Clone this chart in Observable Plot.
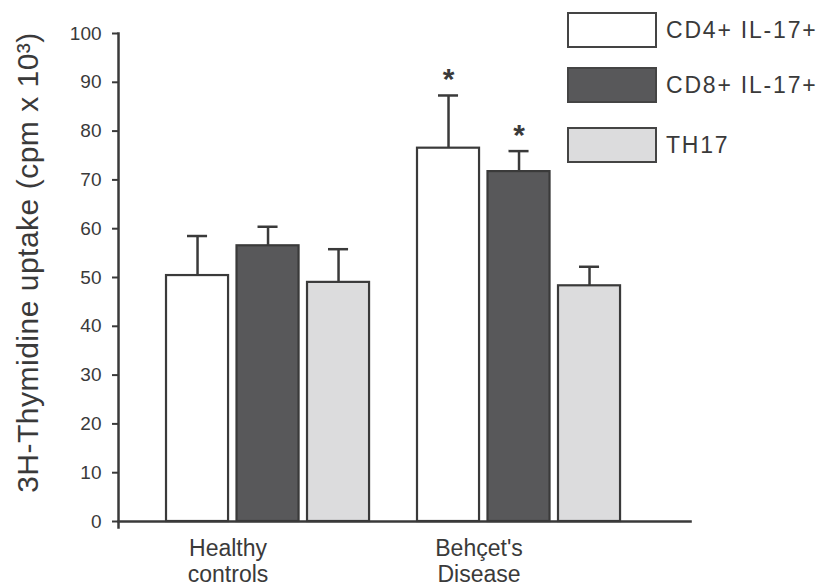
<!DOCTYPE html>
<html>
<head>
<meta charset="utf-8">
<script src="https://cdn.jsdelivr.net/npm/d3@7"></script>
<script src="https://cdn.jsdelivr.net/npm/@observablehq/plot@0.6"></script>
<style>
  html, body { margin: 0; padding: 0; background: #fff; }
  #chart { position: relative; width: 830px; height: 586px; font-family: "Liberation Sans", Arial, sans-serif; color: #3a3a3a; }
  #legend { position: absolute; left: 567px; top: 12px; }
  .item { position: absolute; left: 0; display: flex; align-items: center; white-space: nowrap; }
  .swatch { width: 86px; height: 32px; border: 2.5px solid #444; box-sizing: content-box; }
  .item span { margin-left: 9px; font-size: 23px; letter-spacing: 1.8px; color: #3a3a3a; }
</style>
</head>
<body>
<div id="chart"></div>
<script>
// Groups of subjects and the three cell populations measured in each
const groups = ["Healthy controls", "Behçet's Disease"];
const groupLabels = ["Healthy\ncontrols", "Behçet's\nDisease"];
const series = ["CD4+ IL-17+", "CD8+ IL-17+", "TH17"];
const seriesColors = ["#ffffff", "#58585a", "#dcdcdd"];

// Mean 3H-thymidine uptake (cpm x 10^3) and upper error (SD)
const healthyMeans = [50.4, 56.5, 49.0];
const healthyErrors = [8.1, 3.9, 6.8];
const behcetMeans = [76.5, 71.7, 48.3];
const behcetErrors = [10.8, 4.2, 3.9];

// Significance markers (*) vs. healthy controls
const healthySignificant = [false, false, false];
const behcetSignificant = [true, true, false];

const yTicks = [0, 10, 20, 30, 40, 50, 60, 70, 80, 90, 100];

const rows = [];
[[healthyMeans, healthyErrors, healthySignificant], [behcetMeans, behcetErrors, behcetSignificant]]
  .forEach(([means, errs, sig], gi) => {
    series.forEach((s, si) => {
      rows.push({group: groups[gi], series: s, mean: means[si], upper: means[si] + errs[si], sig: sig[si]});
    });
  });

const ink = "#3a3a3a";
// the axes sit left of the first group and run past the last one
const axisGapLeft = 48;
const axisGapRight = 70;

const plot = Plot.plot({
  width: 830,
  height: 586,
  marginLeft: 118,
  marginRight: 140,
  marginTop: 33,
  marginBottom: 65,
  style: {fontFamily: "'Liberation Sans', Arial, sans-serif", background: "#fff", color: ink},
  fx: {domain: groups, paddingInner: 0.191, paddingOuter: 0.235, align: 0.407, round: false, label: null},
  x: {domain: series, paddingInner: 0.12, paddingOuter: 0, round: false, axis: null},
  y: {domain: [0, 100], label: null},
  color: {domain: series, range: seriesColors},
  marks: [
    Plot.barY(rows, {fx: "group", x: "series", y: "mean", fill: "series", stroke: ink, strokeWidth: 2.2}),
    Plot.ruleX(rows, {fx: "group", x: "series", y1: "mean", y2: "upper", stroke: ink, strokeWidth: 2.5}),
    Plot.tickY(rows, {fx: "group", x: "series", y: "upper", stroke: ink, strokeWidth: 2.5, insetLeft: 21, insetRight: 21}),
    Plot.text(rows.filter(d => d.sig), {fx: "group", x: "series", y: "upper", text: () => "*",
      fontSize: 30, fontWeight: "bold", lineAnchor: "bottom", dy: -6, fill: ink}),
    Plot.axisY({ticks: yTicks, tickSize: 6, tickPadding: 11, fontSize: 19, color: ink, strokeWidth: 2,
      label: null, dx: -axisGapLeft}),
    Plot.axisY({ticks: [], tickSize: 0, label: "3H-Thymidine uptake (cpm x 10³)", labelAnchor: "center",
      labelArrow: "none", labelOffset: 150, fontSize: 30, color: ink}),
    Plot.axisFx({anchor: "bottom", tickSize: 0, tickPadding: 17, fontSize: 23, lineHeight: 1.1, dx: -40,
      tickFormat: (d) => groupLabels[groups.indexOf(d)], label: null, color: ink}),
    Plot.frame({facet: "super", anchor: "left", stroke: ink, strokeWidth: 2.5,
      insetLeft: -axisGapLeft, insetBottom: -6}),
    Plot.frame({facet: "super", anchor: "bottom", stroke: ink, strokeWidth: 2.5,
      insetLeft: -axisGapLeft, insetRight: -axisGapRight})
  ]
});

// y title: slightly wider letter spacing, centred a little above the frame's middle
const titleGroup = d3.select(plot).select("g[aria-label='y-axis label']");
titleGroup.selectAll("text").style("letter-spacing", "0.5px");
const prior = titleGroup.attr("transform");
titleGroup.attr("transform", (prior ? prior + " " : "") + "translate(0,-15)");

const chart = document.getElementById("chart");
chart.appendChild(plot);

// Legend: swatch boxes with labels, top right
const legend = document.createElement("div");
legend.id = "legend";
const legendTops = [0, 55, 115];
series.forEach((s, i) => {
  const item = document.createElement("div");
  item.className = "item";
  item.style.top = legendTops[i] + "px";
  const sw = document.createElement("div");
  sw.className = "swatch";
  sw.style.background = seriesColors[i];
  const label = document.createElement("span");
  label.textContent = s;
  item.appendChild(sw);
  item.appendChild(label);
  legend.appendChild(item);
});
chart.appendChild(legend);
</script>
</body>
</html>
